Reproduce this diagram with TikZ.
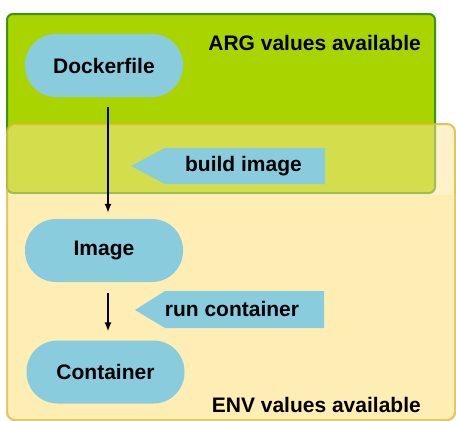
\documentclass[tikz,border=0pt]{standalone}
\usepackage{fontspec}
\setmainfont{Liberation Sans}
\usetikzlibrary{arrows.meta}
\definecolor{argfill}{RGB}{170,212,0}
\definecolor{argdraw}{RGB}{58,150,16}
\definecolor{envfill}{RGB}{255,238,180}
\definecolor{envover}{RGB}{255,230,150}
\definecolor{envdraw}{RGB}{228,200,100}
\definecolor{envoverdraw}{RGB}{215,185,50}
\definecolor{nodeblue}{RGB}{136,204,222}
\tikzset{
  stadium/.style={fill=nodeblue, rounded corners=31pt, minimum width=158pt, minimum height=63pt, inner sep=0pt, font=\bfseries\fontsize{21}{24}\selectfont},
  lbl/.style={inner sep=0pt, font=\bfseries\fontsize{21}{24}\selectfont},
  flow/.style={line width=1.4pt, -{Latex[length=9pt,width=7pt]}},
  tagshape/.style={fill=nodeblue}
}
\begin{document}
\begin{tikzpicture}[x=1pt,y=-1pt]
\useasboundingbox (0,0) rectangle (456,421);
\fill[white] (0,0) rectangle (456,421);
% ARG region
\draw[argdraw, fill=argfill, line width=2pt, rounded corners=6pt] (7,14) rectangle (435,193);
% ENV region
\draw[envoverdraw, fill=envover, line width=2pt, rounded corners=8pt, fill opacity=0.5, draw opacity=0.8] (7,124) rectangle (455,420);
\fill[envfill] (9,194.5) rectangle (453,418.5);
\draw[envdraw, line width=2pt, rounded corners=8pt] (7,193.5) -- (7,420) -- (455,420) -- (455,193.5);
% region labels
\node[lbl, anchor=east] (arg) at (421,43) {ARG values available};
\node[lbl, anchor=east] (env) at (421,405) {ENV values available};
% nodes
\node[stadium] (docker) at (104,65.5) {Dockerfile};
\node[stadium] (image) at (104,250.5) {Image};
\node[stadium] (cont) at (105.5,372) {Container};
% tags
\fill[tagshape] (325,148) -- (165,148) -- (131,166) -- (165,184) -- (325,184) -- cycle;
\node[lbl] (build) at (243.5,166) {build image};
\fill[tagshape] (324,291) -- (165,291) -- (135,310) -- (165,328) -- (324,328) -- cycle;
\node[lbl] (run) at (232,309) {run container};
% arrows
\draw[flow, shorten <=10pt, shorten >=6pt] ([xshift=4pt]docker.south) -- ([xshift=4pt]image.north);
\draw[flow, shorten <=11pt, shorten >=9pt] ([xshift=4pt]image.south) -- ([xshift=2.5pt]cont.north);
\end{tikzpicture}
\end{document}
